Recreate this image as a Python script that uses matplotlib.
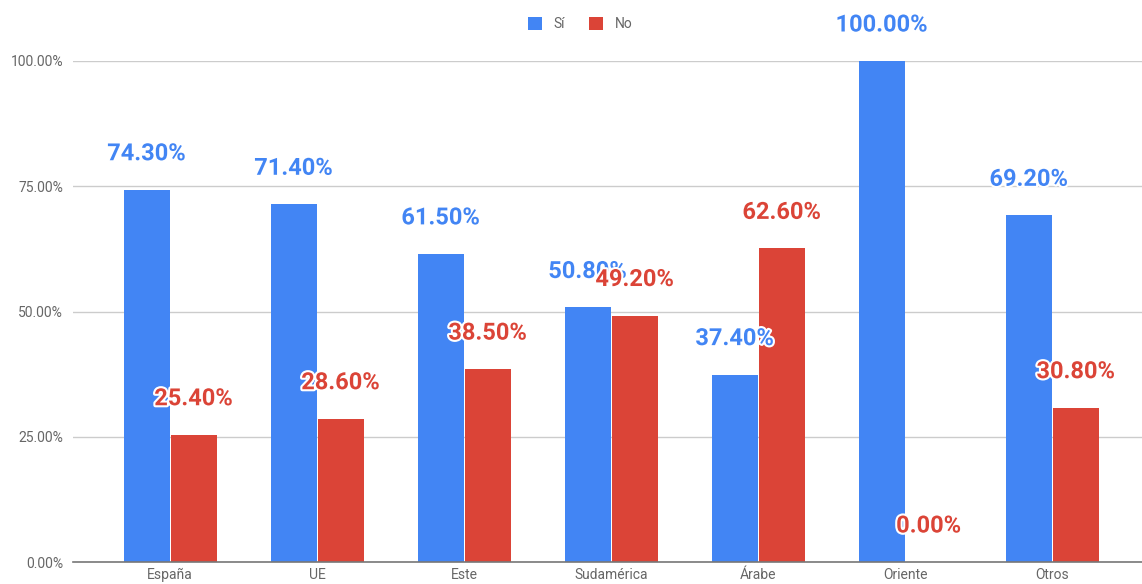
import matplotlib
matplotlib.use("Agg")
import matplotlib.pyplot as plt
import matplotlib.patheffects as pe
import numpy as np

categories = ["España", "UE", "Este", "Sudamérica", "Árabe", "Oriente", "Otros"]
si_values = [74.30, 71.40, 61.50, 50.80, 37.40, 100.00, 69.20]
no_values = [25.40, 28.60, 38.50, 49.20, 62.60, 0.00, 30.80]
series_names = ["Sí", "No"]
yticks = [0, 25, 50, 75, 100]

BLUE = "#4285F4"
RED = "#DB4437"
GRAY = "#666666"

plt.rcParams["font.family"] = ["Roboto", "DejaVu Sans"]

fig = plt.figure(figsize=(11.42, 5.84), dpi=100)
ax = fig.add_axes([73 / 1142, 22 / 584, (1142 - 73) / 1142, 501 / 584])

x = np.arange(len(categories))
w = 0.313
gap = 0.0035
b1 = ax.bar(x - w / 2 - gap, si_values, w, color=BLUE, zorder=3, label=series_names[0])
b2 = ax.bar(x + w / 2 + gap, no_values, w, color=RED, zorder=3, label=series_names[1])

ax.set_xlim(-0.66, 6.61)
ax.set_ylim(0, 100)
ax.set_yticks(yticks)
ax.set_yticklabels([f"{v:.2f}%" for v in yticks])
ax.set_xticks(x)
ax.set_xticklabels(categories)
ax.tick_params(axis="both", length=0, colors=GRAY, labelsize=10)
ax.tick_params(axis="y", pad=7)
ax.tick_params(axis="x", pad=4)
ax.grid(axis="y", color="#cccccc", linewidth=1, zorder=0)
for s in ["top", "right", "left"]:
    ax.spines[s].set_visible(False)
ax.spines["bottom"].set_color("#777777")
ax.spines["bottom"].set_linewidth(1.2)
ax.spines["bottom"].set_zorder(4)

stroke = [pe.withStroke(linewidth=3, foreground="white")]
for bars, vals, col in [(b1, si_values, BLUE), (b2, no_values, RED)]:
    for rect, v in zip(bars, vals):
        ax.annotate(f"{v:.2f}%", (rect.get_x() + rect.get_width() / 2, v),
                    xytext=(0, 36), textcoords="offset pixels",
                    ha="center", va="center", fontsize=17, fontweight="bold",
                    color=col, zorder=5, path_effects=stroke, annotation_clip=False)

leg = fig.legend(handles=[b1, b2], labels=series_names, loc="center",
                 bbox_to_anchor=(580 / 1142, 1 - 24 / 584), ncol=2, frameon=False,
                 fontsize=10, handlelength=1.05, handleheight=1.05, columnspacing=1.7,
                 handletextpad=0.8, labelcolor=GRAY)

fig.savefig("out.png", dpi=100)
